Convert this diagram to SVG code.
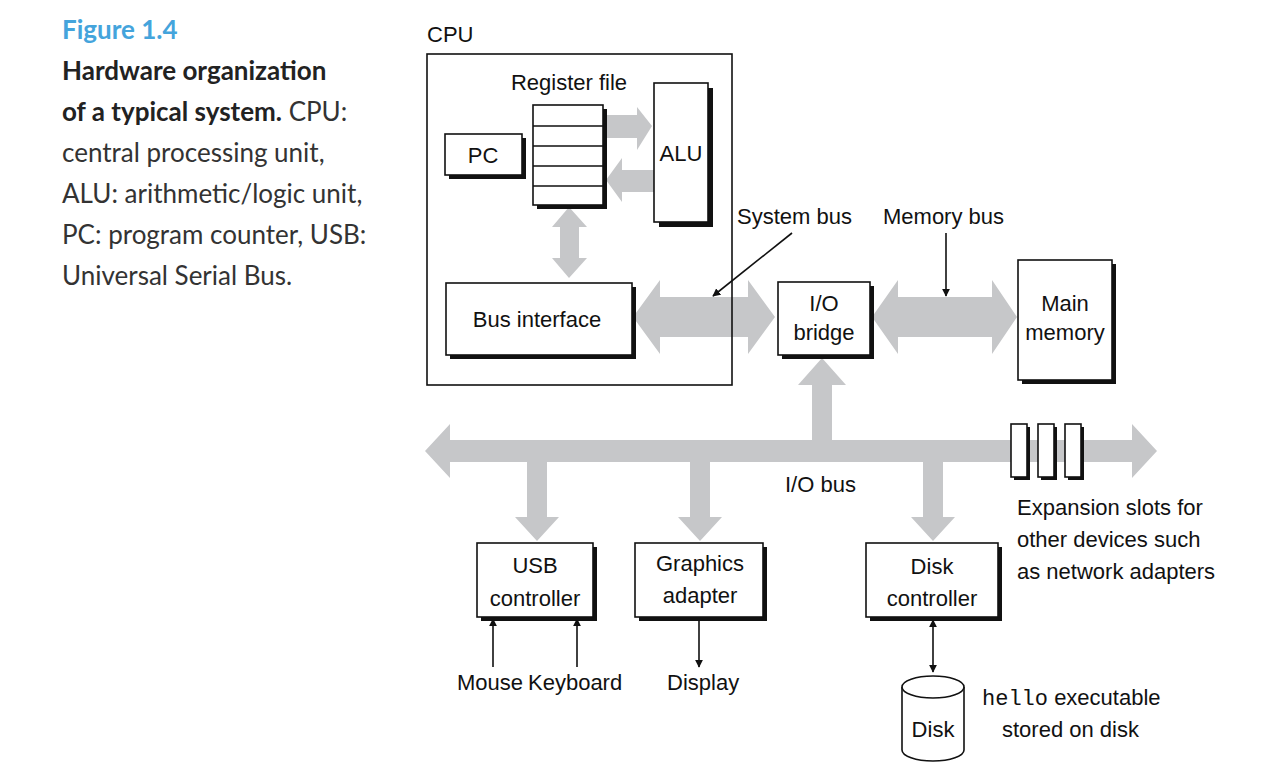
<svg xmlns="http://www.w3.org/2000/svg" width="1276" height="782" viewBox="0 0 1276 782">
<style>
.lbl{font-family:"Liberation Sans",Arial,sans-serif;font-size:22px;fill:#111}
.cap{font-family:Lato,"Open Sans",sans-serif;font-size:26px;fill:#333}
.capb{font-weight:bold;fill:#222}
.fig{font-family:Lato,"Open Sans",sans-serif;font-size:26px;fill:#44a4dc;font-weight:bold}
.box{fill:#fff;stroke:#111;stroke-width:1.6}
.sh{fill:#111}
.bus{fill:#c6c7c9}
.thin{stroke:#111;stroke-width:1.6;fill:none}
.mono{font-family:"Liberation Mono","DejaVu Sans Mono",monospace;font-size:22px;fill:#111}
</style>
<defs>
<marker id="ah" viewBox="0 0 10 10" refX="9" refY="5" markerWidth="8" markerHeight="8" markerUnits="userSpaceOnUse" orient="auto-start-reverse">
<path d="M0,0 L10,5 L0,10 z" fill="#111"/>
</marker>
</defs>
<rect width="1276" height="782" fill="#fff"/>

<g id="caption">
<text class="fig" x="62" y="39">Figure 1.4</text>
<text class="cap capb" x="62" y="80">Hardware organization</text>
<text class="cap" x="62" y="121"><tspan class="capb">of a typical system.</tspan> CPU:</text>
<text class="cap" x="62" y="162">central processing unit,</text>
<text class="cap" x="62" y="203">ALU: arithmetic/logic unit,</text>
<text class="cap" x="62" y="244">PC: program counter, USB:</text>
<text class="cap" x="62" y="285">Universal Serial Bus.</text>
</g>

<g id="connectors">
<polygon class="bus" points="607,115 637,115 637,107 652,126 637,150 637,138 607,138"/>
<polygon class="bus" points="654,170 622,170 622,158 606,180 622,202 622,192 654,192"/>
<polygon class="bus" points="569,207 587,227 579,227 579,258 587,258 569,278 552,258 560,258 560,227 552,227"/>
<polygon class="bus" points="633,317 660,280 660,297 748,297 748,280 775,317 748,354 748,337 660,337 660,354"/>
<polygon class="bus" points="872,317 898,280 898,297 992,297 992,280 1017,317 992,354 992,337 898,337 898,354"/>
<polygon class="bus" points="425,451 450,424 450,440 1132,440 1132,424 1157,451 1132,478 1132,462 450,462 450,478"/>
<polygon class="bus" points="822,358 846,385 832,385 832,441 812,441 812,385 798,385"/>
<polygon class="bus" points="527,461 547,461 547,517 559,517 537,541 515,517 527,517"/>
<polygon class="bus" points="690,461 710,461 710,517 722,517 700,541 678,517 690,517"/>
<polygon class="bus" points="923,461 943,461 943,517 955,517 933,541 911,517 923,517"/>
<line class="thin" x1="792" y1="233" x2="713" y2="296" marker-end="url(#ah)"/>
<line class="thin" x1="946" y1="233" x2="946" y2="296" marker-end="url(#ah)"/>
<line class="thin" x1="493" y1="667" x2="493" y2="619" marker-end="url(#ah)"/>
<line class="thin" x1="577" y1="667" x2="577" y2="619" marker-end="url(#ah)"/>
<line class="thin" x1="699" y1="619" x2="699" y2="667" marker-end="url(#ah)"/>
<line class="thin" x1="933" y1="620" x2="933" y2="672" marker-start="url(#ah)" marker-end="url(#ah)"/>
</g>

<g id="cpu">
<text class="lbl" x="427" y="42">CPU</text>
<rect x="427" y="54" width="305" height="331" fill="none" stroke="#111" stroke-width="1.6"/>
</g>

<g id="register-file">
<text class="lbl" x="569" y="90" text-anchor="middle">Register file</text>
<rect class="sh" x="537" y="109" width="70" height="100"/>
<rect class="box" x="533" y="105" width="70" height="100"/>
<path class="thin" d="M533,126H603M533,146H603M533,166H603M533,186H603"/>
</g>

<g id="alu">
<rect class="sh" x="659" y="88" width="54" height="139"/>
<rect class="box" x="654" y="83" width="54" height="139"/>
<text class="lbl" x="681" y="161" text-anchor="middle">ALU</text>
</g>

<g id="pc">
<rect class="sh" x="449" y="138" width="77" height="41"/>
<rect class="box" x="445" y="134" width="77" height="41"/>
<text class="lbl" x="483" y="163" text-anchor="middle">PC</text>
</g>

<g id="bus-interface">
<rect class="sh" x="450" y="287" width="186" height="72"/>
<rect class="box" x="446" y="283" width="186" height="72"/>
<text class="lbl" x="537" y="327" text-anchor="middle">Bus interface</text>
</g>

<g id="io-bridge">
<rect class="sh" x="782" y="286" width="92" height="73"/>
<rect class="box" x="778" y="282" width="92" height="73"/>
<text class="lbl" x="824" y="311" text-anchor="middle">I/O</text>
<text class="lbl" x="824" y="340" text-anchor="middle">bridge</text>
</g>

<g id="main-memory">
<rect class="sh" x="1022" y="264" width="94" height="120"/>
<rect class="box" x="1018" y="260" width="94" height="120"/>
<text class="lbl" x="1065" y="311" text-anchor="middle">Main</text>
<text class="lbl" x="1065" y="340" text-anchor="middle">memory</text>
</g>

<g id="labels">
<text class="lbl" x="737" y="224">System bus</text>
<text class="lbl" x="883" y="224">Memory bus</text>
<text class="lbl" x="785" y="492">I/O bus</text>
<text class="lbl" x="1017" y="515">Expansion slots for</text>
<text class="lbl" x="1017" y="547">other devices such</text>
<text class="lbl" x="1017" y="579">as network adapters</text>
</g>

<g id="expansion-slots">
<rect class="sh" x="1014" y="427" width="16" height="53"/>
<rect class="box" x="1011" y="424" width="16" height="53"/>
<rect class="sh" x="1041" y="427" width="16" height="53"/>
<rect class="box" x="1038" y="424" width="16" height="53"/>
<rect class="sh" x="1068" y="427" width="16" height="53"/>
<rect class="box" x="1065" y="424" width="16" height="53"/>
</g>

<g id="usb-controller">
<rect class="sh" x="481" y="547" width="116" height="74"/>
<rect class="box" x="477" y="543" width="116" height="74"/>
<text class="lbl" x="535" y="573" text-anchor="middle">USB</text>
<text class="lbl" x="535" y="606" text-anchor="middle">controller</text>
</g>

<g id="graphics-adapter">
<rect class="sh" x="639" y="547" width="128" height="74"/>
<rect class="box" x="635" y="543" width="128" height="74"/>
<text class="lbl" x="700" y="571" text-anchor="middle">Graphics</text>
<text class="lbl" x="700" y="603" text-anchor="middle">adapter</text>
</g>

<g id="disk-controller">
<rect class="sh" x="870" y="547" width="132" height="74"/>
<rect class="box" x="866" y="543" width="132" height="74"/>
<text class="lbl" x="932" y="574" text-anchor="middle">Disk</text>
<text class="lbl" x="932" y="606" text-anchor="middle">controller</text>
</g>

<g id="peripherals">
<text class="lbl" x="457" y="690">Mouse</text>
<text class="lbl" x="528" y="690">Keyboard</text>
<text class="lbl" x="667" y="690">Display</text>
</g>

<g id="disk">
<path class="box" d="M902,687 V750 A31,11 0 0 0 964,750 V687"/>
<ellipse class="box" cx="933" cy="687" rx="31" ry="11"/>
<text class="lbl" x="933" y="737" text-anchor="middle">Disk</text>
<text x="982" y="705"><tspan class="mono">hello</tspan><tspan class="lbl"> executable</tspan></text>
<text class="lbl" x="1002" y="737">stored on disk</text>
</g>
</svg>
